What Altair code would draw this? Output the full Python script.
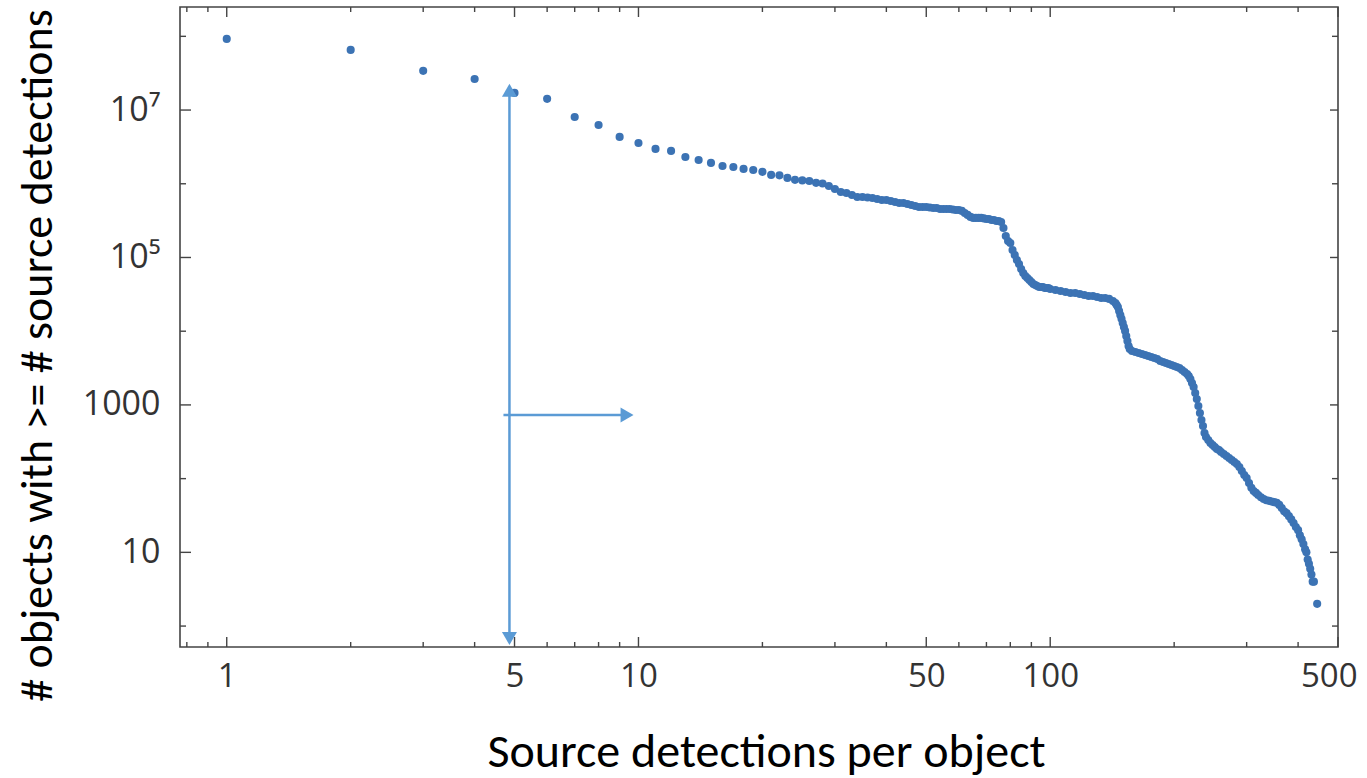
import altair as alt
import pandas as pd

# ---------------- data ----------------
N = list(range(1, 101)) + [
    103, 106, 109, 112, 115, 118, 121, 124, 127, 130, 133, 136, 139, 142, 144,
    145, 146, 147, 148, 149, 150, 151, 152, 153, 154, 155, 156, 158, 161, 164,
    167, 170, 173, 176, 179, 182, 185, 188, 191, 194, 197, 200, 203, 206, 209,
    212, 215, 217, 219, 221, 223, 225, 227, 229, 231, 233, 235, 237, 239, 242,
    245, 248, 251, 254, 257, 260, 264, 268, 272, 276, 280, 284, 288, 292, 296,
    300, 304, 308, 312, 316, 320, 325, 330, 335, 340, 345, 350, 355, 360, 365,
    370, 375, 380, 385, 390, 395, 400, 404, 408, 412, 416, 419, 422, 425, 428,
    431, 434, 437, 445]

COUNT = [
    9.22e7, 6.54e7, 3.40e7, 2.64e7, 1.71e7, 1.42e7, 8.06e6, 6.28e6, 4.32e6, 3.58e6,
    2.97e6, 2.79e6, 2.31e6, 2.10e6, 1.92e6, 1.74e6, 1.69e6, 1.59e6, 1.54e6, 1.45e6,
    1.32e6, 1.30e6, 1.20e6, 1.13e6, 1.11e6, 1.09e6, 1.03e6, 1.01e6, 9.33e5, 8.50e5,
    7.74e5, 7.50e5, 7.05e5, 6.62e5, 6.62e5, 6.52e5, 6.42e5, 6.22e5, 6.03e5, 6.03e5,
    5.84e5, 5.66e5, 5.49e5, 5.49e5, 5.32e5, 5.16e5, 5.00e5, 4.84e5, 4.84e5, 4.84e5,
    4.77e5, 4.70e5, 4.70e5, 4.55e5, 4.55e5, 4.55e5, 4.55e5, 4.48e5, 4.41e5, 4.41e5,
    4.28e5, 4.02e5, 3.78e5, 3.55e5, 3.44e5, 3.44e5, 3.44e5, 3.44e5, 3.39e5, 3.33e5,
    3.33e5, 3.23e5, 3.23e5, 3.13e5, 3.13e5, 3.03e5, 2.51e5, 1.96e5, 1.67e5, 1.57e5,
    1.26e5, 1.08e5, 9.25e4, 8.16e4, 6.98e4, 6.16e4, 5.61e4, 5.27e4, 4.95e4, 4.65e4,
    4.37e4, 4.24e4, 4.11e4, 3.98e4, 3.98e4, 3.98e4, 3.85e4, 3.85e4, 3.85e4, 3.74e4,
    3.62e4, 3.51e4, 3.40e4, 3.30e4, 3.30e4, 3.20e4, 3.10e4, 3.00e4, 3.00e4, 2.91e4,
    2.82e4, 2.82e4, 2.74e4, 2.57e4, 2.41e4, 2.27e4, 2.13e4, 1.88e4, 1.66e4, 1.47e4,
    1.29e4, 1.14e4, 1.01e4, 8610, 7360, 6300, 5730, 5390, 5220, 5060,
    4910, 4750, 4610, 4470, 4330, 4200, 3940, 3820, 3700, 3590,
    3480, 3370, 3270, 3170, 2980, 2790, 2630, 2470, 2250, 1980,
    1750, 1450, 1200, 966, 776, 624, 517, 416, 367, 334,
    304, 286, 269, 252, 244, 230, 216, 203, 190, 179,
    168, 158, 144, 127, 112, 102, 87, 75, 68, 64,
    60, 56, 53, 51, 50, 49, 48, 47, 44, 40,
    36, 34, 31, 28, 25, 22, 20, 17, 15, 13,
    11, 10, 8, 7, 6, 5, 4, 4, 2]

X_TICKS = [1, 5, 10, 50, 100, 500]
X_TICK_LABELS = ["1", "5", "10", "50", "100", "500"]
X_MINOR = [0.8, 0.9, 2, 3, 4, 6, 7, 8, 9, 20, 30, 40, 60, 70, 80, 90, 200, 300, 400]
Y_TICKS = [10, 1000, 100000, 10000000]
Y_TICK_LABELS = ["10", "1000", "10⁵", "10⁷"]
Y_MINOR = [1, 100, 10000, 1000000, 100000000]

X_DOMAIN = [0.77, 500]
Y_DOMAIN = [0.52, 2.5e8]

X_TITLE = "Source detections per object"
Y_TITLE = "# objects with >= # source detections"

# annotation arrows (data coordinates)
V_ARROW_X = [4.86]
V_ARROW_Y_TOP = [1.85e7]
V_ARROW_Y_BOTTOM = [0.68]
H_ARROW_Y = [730]
H_ARROW_X_START = [4.70]
H_ARROW_X_END = [9.38]

# ---------------- styling ----------------
W, H = 1158, 640
DOT = "#3c73b4"
ARROW = "#5b9bd5"
FRAME = "#444444"
LABEL_FONT = "Open Sans"
TITLE_FONT = "Carlito, Lato"

xs = alt.Scale(type="log", domain=X_DOMAIN, nice=False)
ys = alt.Scale(type="log", domain=Y_DOMAIN, nice=False)


def label_expr(values, labels):
    expr = "''"
    for v, l in zip(reversed(values), reversed(labels)):
        expr = f"datum.value == {v} ? '{l}' : ({expr})"
    return expr


x_axis = alt.Axis(
    values=X_TICKS, labelExpr=label_expr(X_TICKS, X_TICK_LABELS),
    ticks=False, domain=False, grid=False,
    labelFont=LABEL_FONT, labelFontSize=33, labelColor="#333333",
    labelPadding=13, labelFlush=True, labelFlushOffset=19,
    title=X_TITLE, titleFont=TITLE_FONT, titleFontSize=48, titleFontWeight="normal",
    titleColor="#000000", titleX=586, titleY=119, titleAlign="center",
    titleBaseline="alphabetic",
)
y_axis = alt.Axis(
    values=Y_TICKS, labelExpr=label_expr(Y_TICKS, Y_TICK_LABELS),
    ticks=False, domain=False, grid=False,
    labelFont=LABEL_FONT, labelFontSize=34, labelColor="#333333",
    labelPadding=20,
    title=Y_TITLE, titleFont=TITLE_FONT, titleFontSize=46, titleFontWeight="normal",
    titleColor="#000000", titleX=-129, titleY=348, titleAngle=270,
    titleAlign="center", titleBaseline="alphabetic",
)


def X(field):
    return alt.X(field, scale=xs, axis=x_axis)


def Y(field):
    return alt.Y(field, scale=ys, axis=y_axis)


df = pd.DataFrame({"n": N, "count": COUNT})

points = alt.Chart(df).mark_circle(size=66, color=DOT, opacity=1).encode(
    x=X("n:Q"), y=Y("count:Q"),
)


def xticks(values, length, top):
    d = pd.DataFrame({"n": values})
    if top:
        y0, y1 = 0, length
    else:
        y0, y1 = H, H - length
    return alt.Chart(d).mark_rule(color=FRAME, strokeWidth=1.4).encode(
        x=X("n:Q"), y=alt.value(y0), y2=alt.value(y1))


def yticks(values, length, right):
    d = pd.DataFrame({"count": values})
    if right:
        x0, x1 = W, W - length
    else:
        x0, x1 = 0, length
    return alt.Chart(d).mark_rule(color=FRAME, strokeWidth=1.4).encode(
        y=Y("count:Q"), x=alt.value(x0), x2=alt.value(x1))


tick_layers = [
    xticks(X_TICKS, 10, False), xticks(X_MINOR, 5, False),
    xticks(X_TICKS, 10, True), xticks(X_MINOR, 5, True),
    yticks(Y_TICKS, 11, False), yticks(Y_MINOR, 6, False),
    yticks(Y_TICKS, 8, True), yticks(Y_MINOR, 6, True),
]

v_df = pd.DataFrame({"n": V_ARROW_X, "count": V_ARROW_Y_TOP, "count2": V_ARROW_Y_BOTTOM})
h_df = pd.DataFrame({"n": H_ARROW_X_START, "n2": H_ARROW_X_END, "count": H_ARROW_Y})

v_line = alt.Chart(v_df).mark_rule(color=ARROW, strokeWidth=2.5).encode(
    x=X("n:Q"), y=Y("count:Q"), y2="count2:Q")
h_line = alt.Chart(h_df).mark_rule(color=ARROW, strokeWidth=2.5).encode(
    x=X("n:Q"), x2="n2:Q", y=Y("count:Q"))
head_up = alt.Chart(v_df).mark_point(shape="triangle-up", filled=True, size=225,
                                     color=ARROW, opacity=1).encode(
    x=X("n:Q"), y=Y("count:Q"))
head_down = alt.Chart(v_df).mark_point(shape="triangle-down", filled=True, size=225,
                                       color=ARROW, opacity=1).encode(
    x=X("n:Q"), y=Y("count2:Q"))
head_right = alt.Chart(h_df).mark_point(shape="triangle-right", filled=True, size=225,
                                        color=ARROW, opacity=1).encode(
    x=X("n2:Q"), y=Y("count:Q"))

chart = alt.layer(
    points, *tick_layers, v_line, h_line, head_up, head_down, head_right
).properties(
    width=W, height=H,
    autosize=alt.AutoSizeParams(type="none"),
    padding={"left": 180, "top": 7, "right": 29, "bottom": 131},
    background="white",
).configure_view(
    stroke=FRAME, strokeWidth=1.6
)

chart.save("out.html", embed_options={"renderer": "svg", "actions": False})
